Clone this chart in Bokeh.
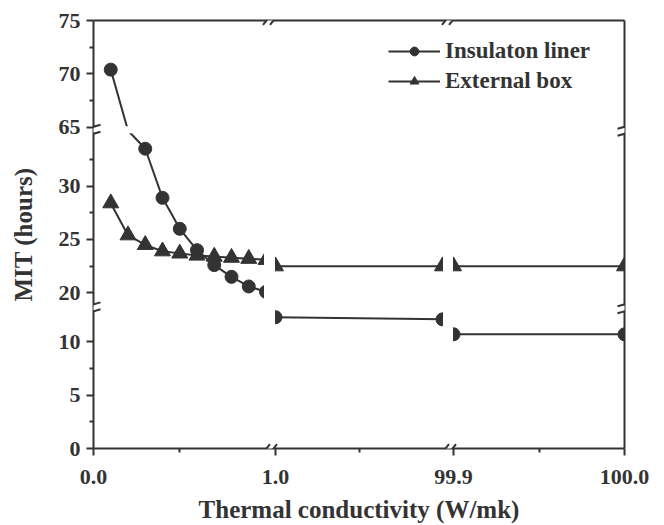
from bokeh.plotting import figure
from bokeh.models import (Range1d, FixedTicker, LinearAxis, BoxAnnotation, Arrow,
                          ColumnDataSource, Legend, LegendItem, PolyAnnotation)
from bokeh.embed import file_html
from bokeh.resources import INLINE

# ---------------- data ----------------
# first x segment 0.0 - 1.0
x_near = [0.1, 0.2, 0.3, 0.4, 0.5, 0.6, 0.7, 0.8, 0.9, 1.0]
liner_near = [70.4, 50.0, 33.5, 28.9, 26.0, 24.0, 22.6, 21.5, 20.6, 20.1]   # 0.2 lies inside the y break
box_near = [28.4, 25.4, 24.5, 23.9, 23.7, 23.5, 23.4, 23.3, 23.2, 23.1]
# second x segment 1.0 - 99.9
x_mid = [1.0, 99.9]
liner_mid = [12.3, 12.1]
box_mid = [22.5, 22.5]
# third x segment 99.9 - 100.0
x_far = [99.9, 100.0]
liner_far = [10.7, 10.7]
box_far = [22.5, 22.5]

x_tick_values = [0.0, 1.0, 99.9, 100.0]
x_tick_segs = [0, 1, 2, 2]
x_tick_labels = ["0.0", "1.0", "99.9", "100.0"]
x_minor_values = [0.5, 50.45, 99.95]
x_minor_segs = [0, 1, 2]
y_tick_values = [0, 5, 10, 20, 25, 30, 65, 70, 75]
y_minor_values = [2.5, 7.5, 22.5, 27.5, 32.5, 67.5, 72.5]
x_title = "Thermal conductivity (W/mk)"
y_title = "MIT (hours)"

# ---------------- broken-axis scales ----------------
FRAME_W, FRAME_H = 531, 429
X_SEGS = [(0.0, 1.0, 0.0, 172.5), (1.0, 99.9, 182.0, 349.0), (99.9, 100.0, 360.0, 531.0)]
X_BREAKS = [177.0, 356.0]


def fx(v, seg):
    a, b, p0, p1 = X_SEGS[seg]
    return p0 + (v - a) / (b - a) * (p1 - p0)


# (value_lo, value_hi, display_lo, display_hi)
Y_PIECES = [(0.0, 13.2, 0.0, 141.2),
            (13.2, 18.6, 141.2, 141.0),
            (18.6, 35.1, 141.0, 317.6),
            (35.1, 64.8, 317.6, 319.8),
            (64.8, 75.0, 319.8, 429.0)]
Y_BREAK_VALUES = [(13.2, 18.6), (35.1, 64.8)]
Y_BREAKS = [141.0, 319.0]


def fy(v):
    for a, b, d0, d1 in Y_PIECES:
        if a <= v <= b:
            return d0 + (v - a) / (b - a) * (d1 - d0)
    return 0.0


def in_break(v):
    return any(a < v < b for a, b in Y_BREAK_VALUES)


INK = "#333333"
FONT = "Liberation Serif"

p = figure(width=664, height=525, output_backend="svg", toolbar_location=None,
           x_range=Range1d(0, FRAME_W), y_range=Range1d(0, FRAME_H),
           min_border_left=93, min_border_right=40, min_border_top=20, min_border_bottom=76,
           x_axis_location=None, y_axis_location=None)
p.grid.visible = False
p.outline_line_color = None
p.background_fill_color = "white"
p.border_fill_color = "white"

# axes
xr = [round(fx(v, s), 3) for v, s in zip(x_tick_values, x_tick_segs)]
xm = [round(fx(v, s), 3) for v, s in zip(x_minor_values, x_minor_segs)]
yr = [round(fy(v), 3) for v in y_tick_values]
ym = [round(fy(v), 3) for v in y_minor_values]


def style_axis(ax):
    ax.axis_line_color = INK
    ax.axis_line_width = 2
    ax.major_tick_line_color = INK
    ax.major_tick_line_width = 2
    ax.minor_tick_line_color = INK
    ax.minor_tick_line_width = 2
    ax.major_tick_out = 7
    ax.major_tick_in = 0
    ax.minor_tick_out = 4
    ax.minor_tick_in = 0
    ax.major_label_text_font = FONT
    ax.major_label_text_font_style = "bold"
    ax.major_label_text_font_size = "22px"
    ax.major_label_text_color = INK
    ax.axis_label_text_font = FONT
    ax.axis_label_text_font_style = "bold"
    ax.axis_label_text_font_size = "25px"
    ax.axis_label_text_color = INK


xaxis = LinearAxis(ticker=FixedTicker(ticks=xr, minor_ticks=xm), axis_label=x_title)
style_axis(xaxis)
xaxis.major_label_overrides = {t: l for t, l in zip(xr, x_tick_labels)}
xaxis.major_label_standoff = 14
xaxis.axis_label_standoff = 9
xaxis.axis_label_text_line_height = 0.8
p.add_layout(xaxis, "below")

yaxis = LinearAxis(ticker=FixedTicker(ticks=yr, minor_ticks=ym), axis_label=y_title)
style_axis(yaxis)
yaxis.major_label_overrides = {t: str(l) for t, l in zip(yr, y_tick_values)}
yaxis.major_label_standoff = 6
yaxis.axis_label_standoff = 19
p.add_layout(yaxis, "left")

for place in ("above", "right"):
    ax = LinearAxis(ticker=FixedTicker(ticks=[]))
    style_axis(ax)
    ax.major_tick_out = 0
    ax.minor_tick_out = 0
    ax.major_label_text_font_size = "0px"
    p.add_layout(ax, place)

# series
series = [
    ("Insulaton liner", "circle", 13, [liner_near, liner_mid, liner_far]),
    ("External box", "triangle", 16, [box_near, box_mid, box_far]),
]
xs_all = [x_near, x_mid, x_far]
legend_items = []
for label, marker, size, ys_all in series:
    first = []
    for seg, (xs, ys) in enumerate(zip(xs_all, ys_all)):
        lx = [fx(v, seg) for v in xs]
        ly = [fy(v) for v in ys]
        lr = p.line(lx, ly, line_color=INK, line_width=2)
        mx = [a for a, v in zip(lx, ys) if not in_break(v)]
        my = [fy(v) for v in ys if not in_break(v)]
        sr = p.scatter(mx, my, marker=marker, size=size, fill_color=INK, line_color=INK)
        if seg == 0:
            first = [lr, sr]
    legend_items.append(LegendItem(label=label, renderers=first))

# white gaps that cut the data at the breaks
p.add_layout(BoxAnnotation(left=170.5, right=181.5, bottom=100, top=200,
                           fill_color="white", fill_alpha=1, line_color=None))
p.add_layout(BoxAnnotation(left=349.5, right=359.5, bottom=100, top=200,
                           fill_color="white", fill_alpha=1, line_color=None))
p.add_layout(BoxAnnotation(left=3, right=FRAME_W - 3, bottom=316, top=323,
                           fill_color="white", fill_alpha=1, line_color=None))

# break marks on the axes
x0s, y0s, x1s, y1s = [], [], [], []
for c in X_BREAKS:
    for ay in (0.0, FRAME_H):
        p.add_layout(PolyAnnotation(xs=[c - 4.5, c + 0.5, c + 3.5, c - 1.5],
                                    ys=[ay - 2, ay - 2, ay + 2, ay + 2],
                                    fill_color="white", fill_alpha=1, line_color=None))
        for dx in (-7.5, -0.5):
            x0s.append(c + dx); y0s.append(ay - 4.5)
            x1s.append(c + dx + 7); y1s.append(ay + 4.5)
for b in Y_BREAKS:
    for ax_ in (0.0, FRAME_W):
        p.add_layout(PolyAnnotation(xs=[ax_ - 3, ax_ + 3, ax_ + 3, ax_ - 3],
                                    ys=[b - 3.4, b - 1.6, b + 3.4, b + 1.6],
                                    fill_color="white", fill_alpha=1, line_color=None))
        for dy in (-5.5, 1.5):
            x0s.append(ax_ - 7); y0s.append(b + dy)
            x1s.append(ax_ + 7); y1s.append(b + dy + 4)
marks = ColumnDataSource(dict(x0=x0s, y0=y0s, x1=x1s, y1=y1s))
p.add_layout(Arrow(end=None, x_start="x0", y_start="y0", x_end="x1", y_end="y1",
                   source=marks, line_color=INK, line_width=2))

legend = Legend(items=legend_items, location=(285, 344), glyph_width=52, glyph_height=22,
                label_height=22, spacing=4, padding=10, label_standoff=5, margin=0,
                border_line_alpha=0, background_fill_alpha=0,
                label_text_font=FONT, label_text_font_style="bold",
                label_text_font_size="23px", label_text_color=INK)
p.add_layout(legend)

open("out.html", "w").write(file_html(p, INLINE))
